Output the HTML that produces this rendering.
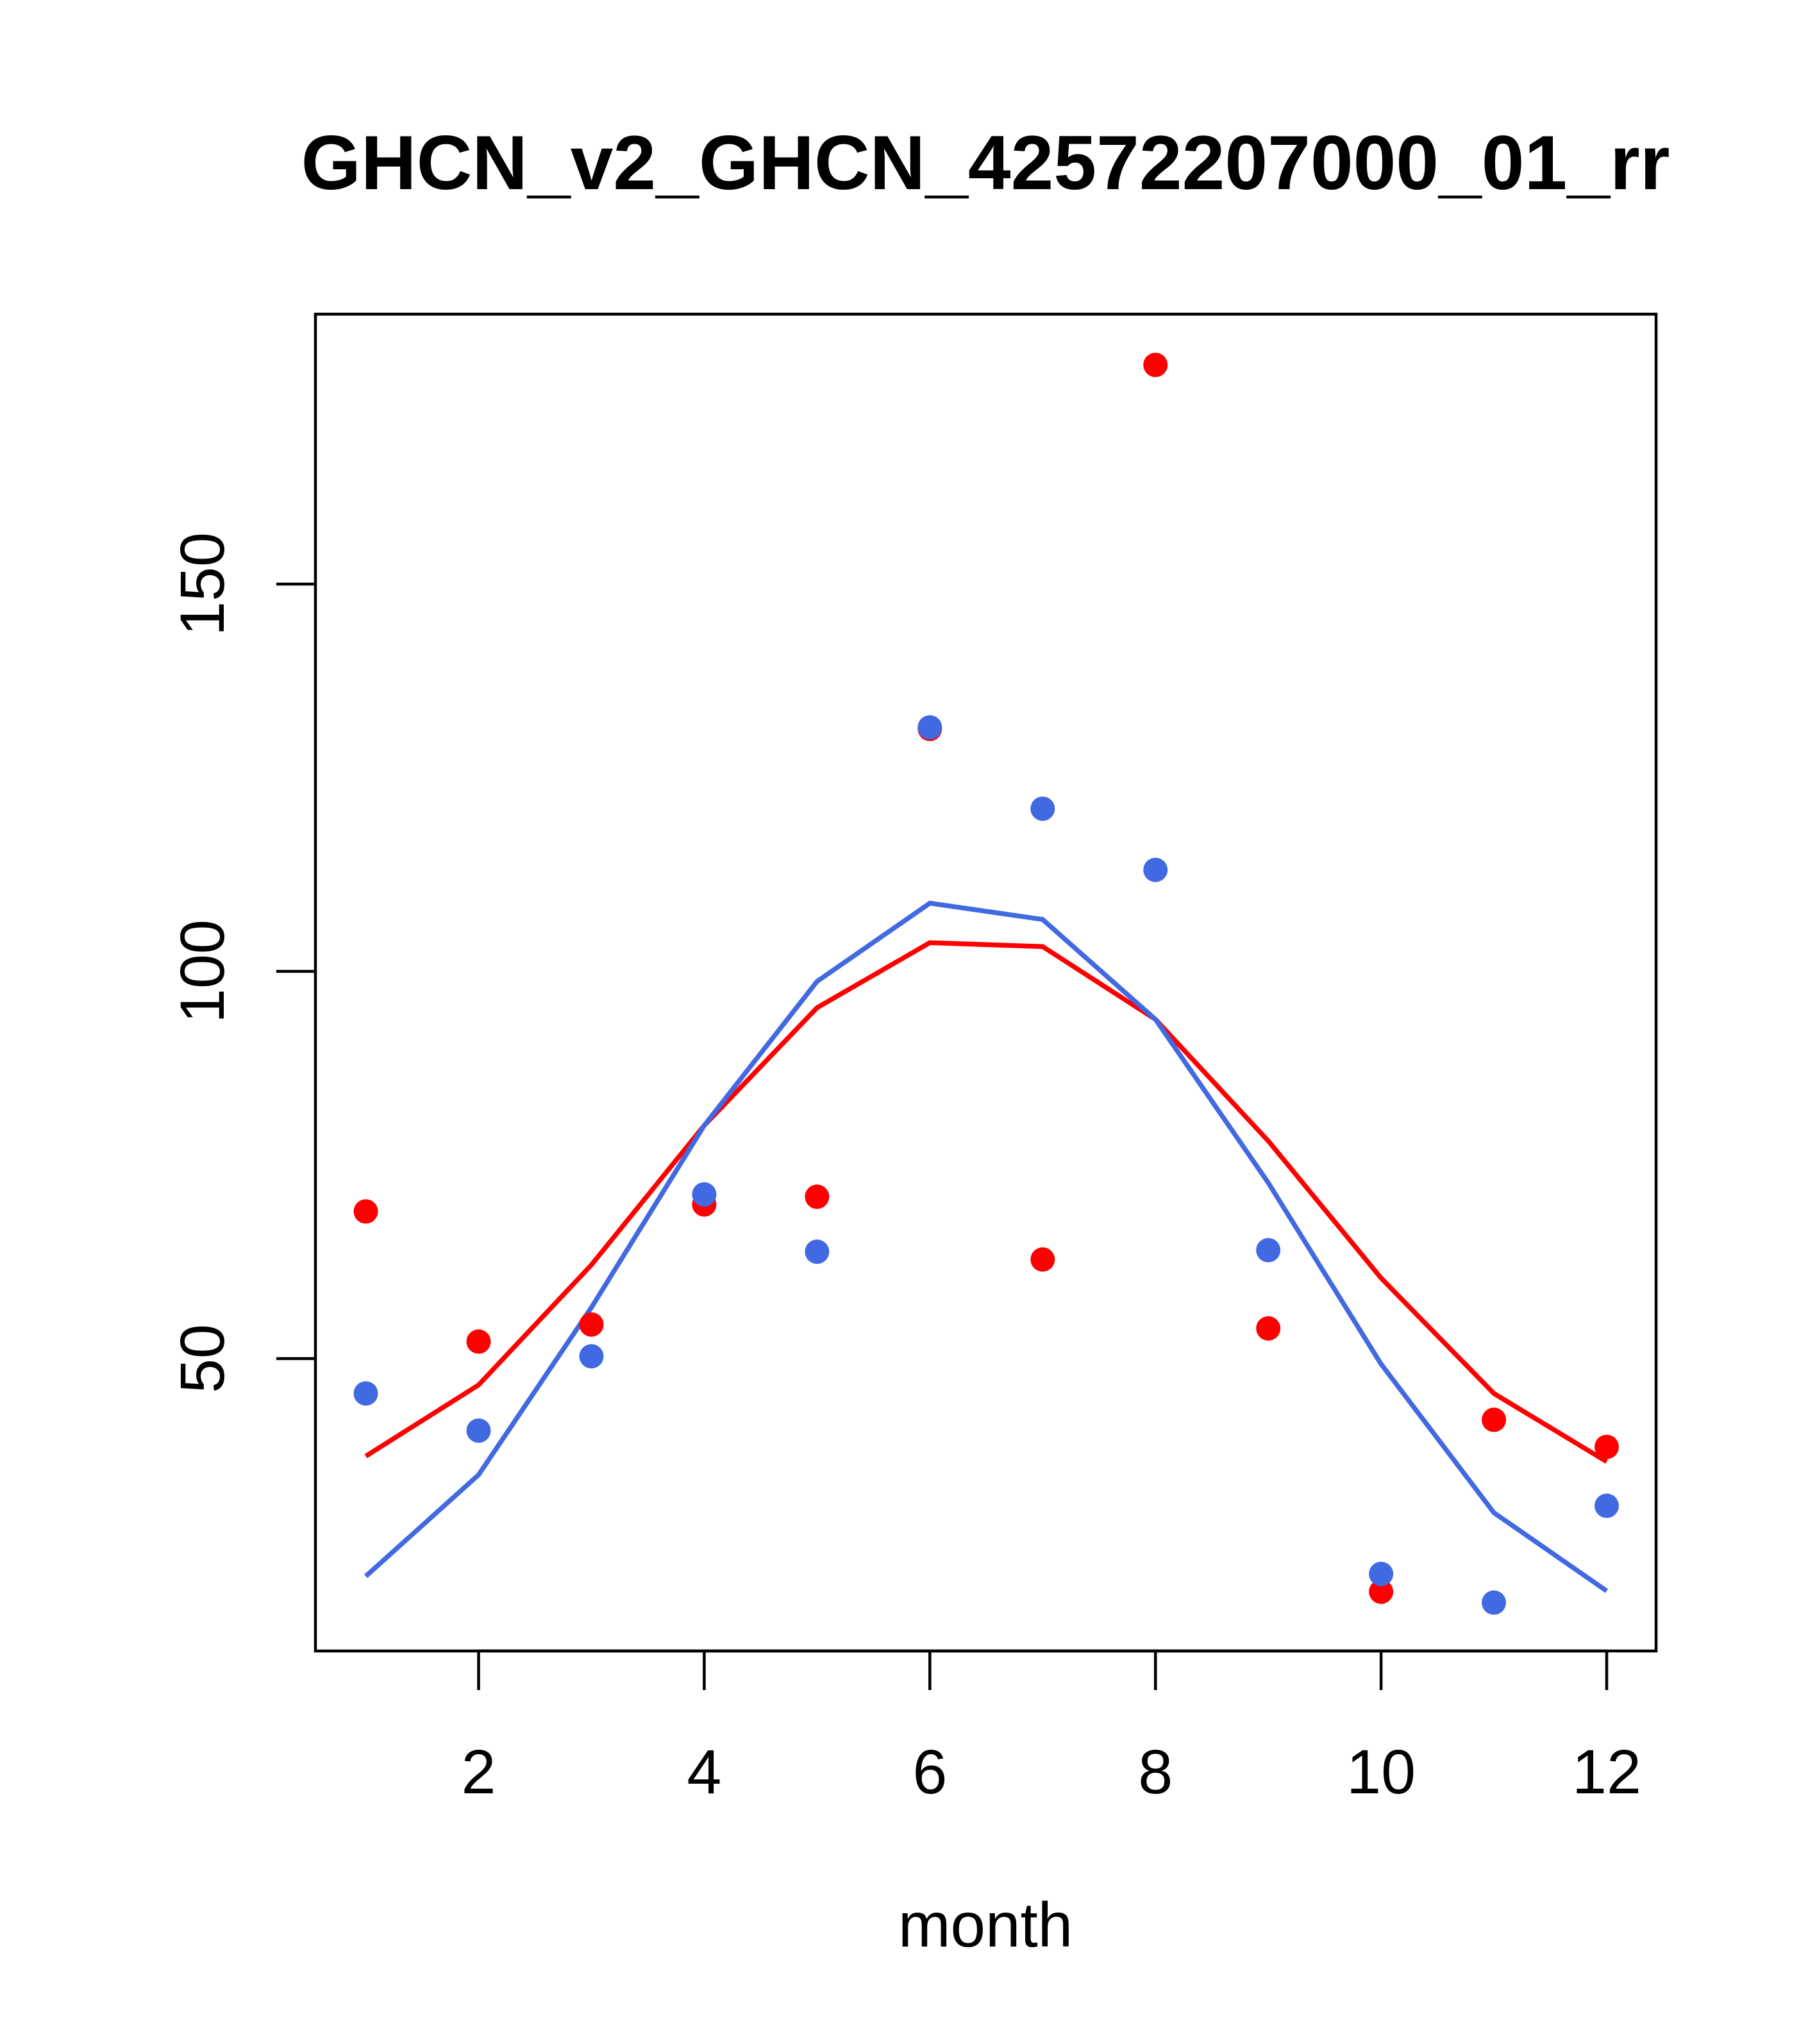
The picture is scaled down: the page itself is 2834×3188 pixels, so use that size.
<!DOCTYPE html>
<html><head><meta charset="utf-8"><style>
html,body{margin:0;padding:0;background:#fff;}
svg{display:block;}
text{font-family:"Liberation Sans",Arial,sans-serif;fill:#000;}
</style></head><body>
<svg id="chart" width="2834" height="3188" viewBox="0 0 2834 3188" xmlns="http://www.w3.org/2000/svg">
<rect width="2834" height="3188" fill="#fff"/>
<text x="1537" y="295" font-size="120" font-weight="bold" text-anchor="middle">GHCN_v2_GHCN_42572207000_01_rr</text>
<text x="1537" y="3036" font-size="98" text-anchor="middle">month</text>
<rect x="492" y="490" width="2091" height="2085" fill="none" stroke="#000" stroke-width="4.5"/>
<g id="xaxis"></g>
<g id="yaxis"></g>
<g id="series"></g>
</svg>
<script>
const months=[1,2,3,4,5,6,7,8,9,10,11,12];
const redPoints=[69,52.2,54.4,69.9,70.9,131.3,62.8,178.3,53.9,19.9,42.1,38.6];
const bluePoints=[45.5,40.7,50.3,71.2,63.8,131.5,121,113.1,64,22.2,18.5,31];
const redLine=[37.4,46.6,62.1,80.1,95.3,103.7,103.2,93.8,78.1,60.4,45.5,36.7];
const blueLine=[21.9,35,56.6,80.1,98.7,108.8,106.7,93.8,72.7,49.3,30.1,20];
const xTicks=[2,4,6,8,10,12];
const yTicks=[50,100,150];

const NS="http://www.w3.org/2000/svg";
function X(m){return 746.5+(m-2)*175.95;}
function Y(v){return 1515-(v-100)*12.08;}
function mk(tag,attrs,parent){const e=document.createElementNS(NS,tag);for(const k in attrs)e.setAttribute(k,attrs[k]);parent.appendChild(e);return e;}
const xa=document.getElementById('xaxis'),ya=document.getElementById('yaxis'),sg=document.getElementById('series');
mk('line',{x1:X(2),x2:X(12),y1:2575,y2:2575,stroke:'#000','stroke-width':4.5},xa);
xTicks.forEach(t=>{
  const l=mk('line',{x1:X(t),x2:X(t),y1:2575,y2:2636,stroke:'#000','stroke-width':4.5},xa);
  
  
  const tx=mk('text',{x:X(t),y:2797,'font-size':97,'text-anchor':'middle'},xa);
  tx.textContent=t;
  
  
});
yTicks.forEach(t=>{
  const l=mk('line',{x1:492,x2:431,y1:Y(t),y2:Y(t),stroke:'#000','stroke-width':4.5},ya);
  
  
  const tx=mk('text',{x:0,y:0,'font-size':97,'text-anchor':'middle',transform:`translate(349,${Y(t)}) rotate(-90)`},ya);
  tx.textContent=t;
  
  
});
function line(vals,color,name){
  const p=mk('polyline',{points:vals.map((v,i)=>X(months[i])+','+Y(v)).join(' '),fill:'none',stroke:color,'stroke-width':7.5},sg);
  
  
}
function pts(vals,color,name){
  vals.forEach((v,i)=>{
    const c=mk('circle',{cx:X(months[i]),cy:Y(v),r:19,fill:color},sg);
    
    
  });
}
line(redLine,'#ff0000','red-line');
line(blueLine,'#4169e1','blue-line');
pts(redPoints,'#ff0000','red-point');
pts(bluePoints,'#4169e1','blue-point');
</script>
</body></html>
